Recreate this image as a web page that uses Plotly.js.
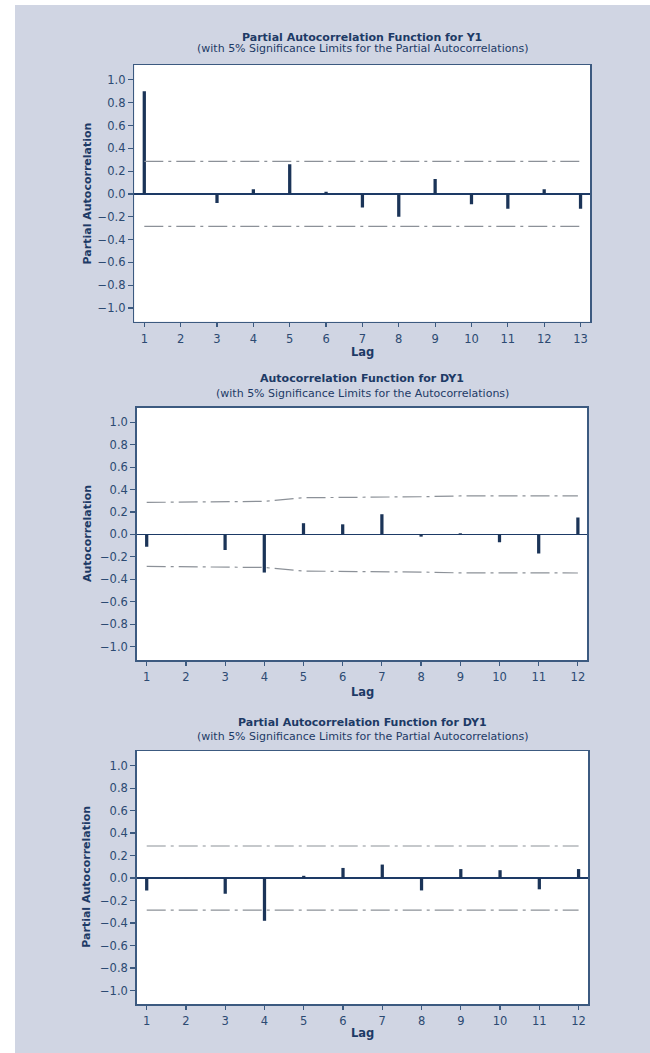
<!DOCTYPE html>
<html>
<head>
<meta charset="utf-8">
<script src="https://cdn.plot.ly/plotly-3.0.1.min.js"></script>
<style>
  html, body { margin: 0; padding: 0; background: #ffffff; width: 650px; height: 1053px; overflow: hidden; }
  #chart { position: absolute; left: 15px; top: 5px; width: 635px; height: 1048px; }
</style>
</head>
<body>
<div id="chart"></div>
<script>
// ---- Data ----
const lagsY1 = [1,2,3,4,5,6,7,8,9,10,11,12,13];
const pacfY1 = [0.90, 0.00, -0.08, 0.04, 0.26, 0.02, -0.12, -0.20, 0.13, -0.09, -0.13, 0.04, -0.13];
const pacfY1Limit = [0.285,0.285,0.285,0.285,0.285,0.285,0.285,0.285,0.285,0.285,0.285,0.285,0.285];

const lagsDY1 = [1,2,3,4,5,6,7,8,9,10,11,12];
const acfDY1 = [-0.11, -0.005, -0.14, -0.34, 0.10, 0.09, 0.18, -0.02, 0.01, -0.07, -0.17, 0.15];
const acfDY1Limit = [0.285, 0.29, 0.29, 0.295, 0.327, 0.328, 0.333, 0.336, 0.343, 0.343, 0.344, 0.344];

const pacfDY1 = [-0.11, -0.005, -0.14, -0.38, 0.02, 0.09, 0.12, -0.11, 0.08, 0.07, -0.10, 0.08];
const pacfDY1Limit = [0.285,0.285,0.285,0.285,0.285,0.285,0.285,0.285,0.285,0.285,0.285,0.285];

const yTickVals = [-1.0,-0.8,-0.6,-0.4,-0.2,0.0,0.2,0.4,0.6,0.8,1.0];

const titles = [
  ["Partial Autocorrelation Function for Y1", "(with 5% Significance Limits for the Partial Autocorrelations)", "Partial Autocorrelation"],
  ["Autocorrelation Function for DY1", "(with 5% Significance Limits for the Autocorrelations)", "Autocorrelation"],
  ["Partial Autocorrelation Function for DY1", "(with 5% Significance Limits for the Partial Autocorrelations)", "Partial Autocorrelation"]
];

// ---- Styling ----
const FONT = "DejaVu Sans, Verdana, sans-serif";
const NAVY = "#1d3a66";
const TICKC = "#2c4a72";
const BAR = "#1b3458";
const AXL = "#3c5a80";
const LIM = "#8c9198";
const DASH = "19px,5px,3px,5px";

const W = 635, H = 1048;
const panels = [
  {lags: lagsY1, vals: pacfY1, lim: pacfY1Limit, x0: 119.3, x1: 575.0, y0: 60.0, y1: 316.7, xr: [0.725, 13.26], bw: 0.09, titleY: 32, subY: 43.5, lagY: 347, ytY: 188.4},
  {lags: lagsDY1, vals: acfDY1, lim: acfDY1Limit, x0: 121.7, x1: 572.3, y0: 402.7, y1: 655.0, xr: [0.745, 12.24], bw: 0.083, titleY: 373, subY: 388, lagY: 687, ytY: 529},
  {lags: lagsDY1, vals: pacfDY1, lim: pacfDY1Limit, x0: 121.7, x1: 573.0, y0: 746.0, y1: 999.0, xr: [0.745, 12.24], bw: 0.083, titleY: 717, subY: 731, lagY: 1028, ytY: 871.7}
];

const data = [];
const layout = {
  width: W, height: H,
  margin: {l: 0, r: 0, t: 0, b: 0},
  paper_bgcolor: "#d0d5e3",
  plot_bgcolor: "#ffffff",
  showlegend: false,
  font: {family: FONT, color: NAVY, size: 11},
  annotations: []
};

panels.forEach((p, i) => {
  const n = i === 0 ? "" : String(i + 1);
  const xa = "x" + n, ya = "y" + n;
  data.push({
    type: "bar", x: p.lags, y: p.vals, width: p.bw,
    marker: {color: BAR, line: {width: 0}},
    xaxis: xa, yaxis: ya, hoverinfo: "skip"
  });
  data.push({
    type: "scatter", mode: "lines", x: p.lags, y: p.lim,
    line: {color: LIM, width: 1.2, dash: DASH},
    xaxis: xa, yaxis: ya, hoverinfo: "skip"
  });
  data.push({
    type: "scatter", mode: "lines", x: p.lags, y: p.lim.map(v => -v),
    line: {color: LIM, width: 1.2, dash: DASH},
    xaxis: xa, yaxis: ya, hoverinfo: "skip"
  });
  layout["xaxis" + n] = {
    domain: [p.x0 / W, p.x1 / W],
    anchor: ya,
    range: p.xr,
    tickmode: "array", tickvals: p.lags, ticktext: p.lags.map(String),
    ticks: "outside", ticklen: 4, tickwidth: 1.2, tickcolor: AXL,
    ticklabelstandoff: 2,
    showline: true, linecolor: AXL, linewidth: 1.5, mirror: true,
    showgrid: false, zeroline: false,
    tickfont: {family: FONT, size: 11.5, color: TICKC},
    fixedrange: true
  };
  layout["yaxis" + n] = {
    domain: [1 - p.y1 / H, 1 - p.y0 / H],
    anchor: xa,
    range: [-1.12, 1.13],
    tickmode: "array", tickvals: yTickVals, tickformat: ".1f",
    ticks: "outside", ticklen: 5, tickwidth: 1.2, tickcolor: AXL,
    showline: true, linecolor: AXL, linewidth: 1.5, mirror: true,
    showgrid: false,
    zeroline: true, zerolinecolor: NAVY, zerolinewidth: 1.6,
    tickfont: {family: FONT, size: 11.5, color: TICKC},
    fixedrange: true
  };
  const cx = (p.x0 + p.x1) / 2 / W;
  layout.annotations.push(
    {xref: "paper", yref: "paper", x: cx, y: 1 - p.titleY / H, xanchor: "center", yanchor: "middle",
     text: "<b>" + titles[i][0] + "</b>", showarrow: false, font: {family: FONT, size: 11, color: NAVY}},
    {xref: "paper", yref: "paper", x: cx, y: 1 - p.subY / H, xanchor: "center", yanchor: "middle",
     text: titles[i][1], showarrow: false, font: {family: FONT, size: 11, color: NAVY}},
    {xref: "paper", yref: "paper", x: cx, y: 1 - p.lagY / H, xanchor: "center", yanchor: "middle",
     text: "<b>Lag</b>", showarrow: false, font: {family: FONT, size: 11.5, color: NAVY}},
    {xref: "paper", yref: "paper", x: 72 / W, y: 1 - p.ytY / H, xanchor: "center", yanchor: "middle",
     textangle: -90, text: "<b>" + titles[i][2] + "</b>", showarrow: false, font: {family: FONT, size: 11, color: NAVY}}
  );
});

Plotly.newPlot("chart", data, layout, {displayModeBar: false, staticPlot: true});
</script>
</body>
</html>
